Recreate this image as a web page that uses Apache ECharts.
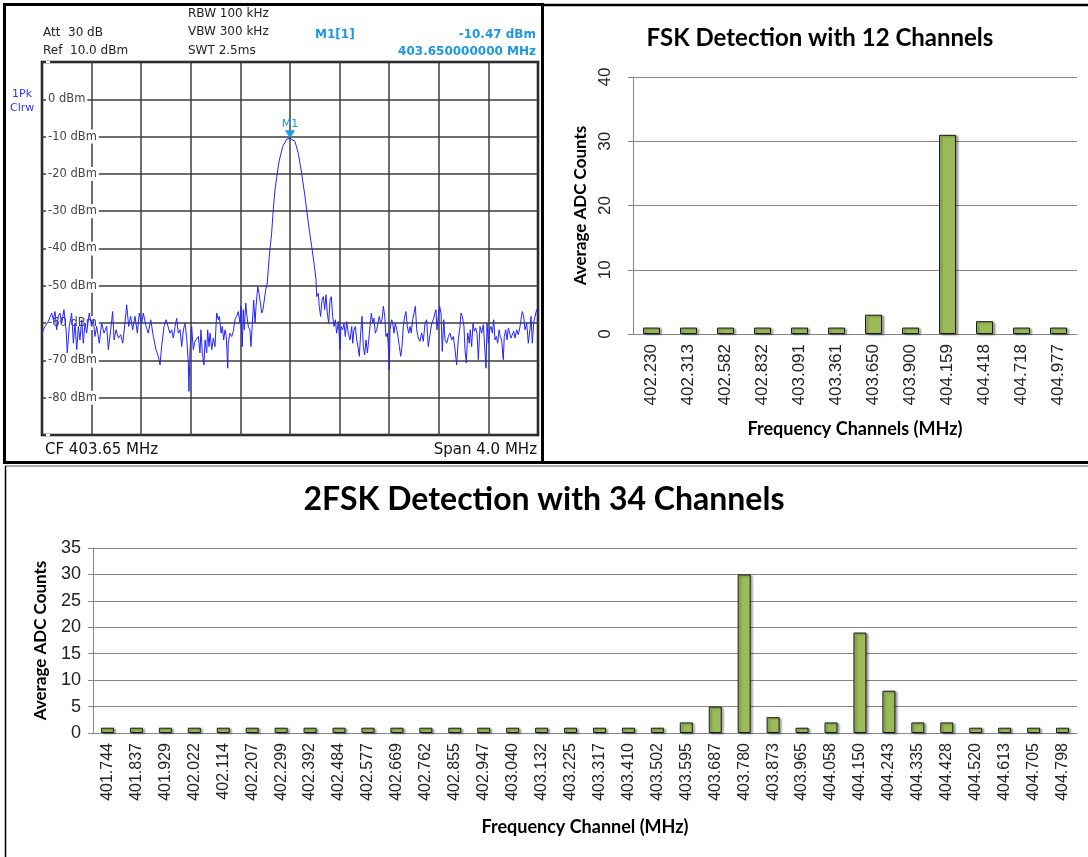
<!DOCTYPE html>
<html>
<head>
<meta charset="utf-8">
<script src="https://cdn.jsdelivr.net/npm/echarts@6/dist/echarts.min.js"></script>
<style>
  html, body { margin: 0; padding: 0; background: #fff; }
  #main { width: 1088px; height: 857px; }
</style>
</head>
<body>
<div id="main"></div>
<script>
// spectrum analyser trace, MHz / dBm
const centerFreq = 403.65
const traceFreq = [
  401.650, 401.660, 401.674, 401.701, 401.728, 401.741, 401.755, 401.768, 401.782, 401.795,
  401.809, 401.827, 401.844, 401.854, 401.870, 401.889, 401.903, 401.916, 401.930, 401.943,
  401.956, 401.970, 401.983, 401.997, 402.010, 402.031, 402.051, 402.064, 402.077, 402.091,
  402.112, 402.131, 402.150, 402.172, 402.185, 402.204, 402.220, 402.231, 402.247, 402.266,
  402.285, 402.301, 402.319, 402.333, 402.349, 402.365, 402.381, 402.400, 402.419, 402.435,
  402.454, 402.467, 402.489, 402.507, 402.527, 402.548, 402.569, 402.588, 402.602, 402.615,
  402.634, 402.651, 402.682, 402.696, 402.709, 402.723, 402.736, 402.749, 402.763, 402.777,
  402.790, 402.803, 402.817, 402.830, 402.835, 402.844, 402.857, 402.870, 402.884, 402.898,
  402.911, 402.924, 402.932, 402.943, 402.956, 402.965, 402.978, 402.986, 402.997, 403.005,
  403.019, 403.032, 403.045, 403.059, 403.072, 403.080, 403.094, 403.104, 403.115, 403.126,
  403.136, 403.148, 403.152, 403.166, 403.180, 403.193, 403.206, 403.220, 403.233, 403.247,
  403.255, 403.265, 403.273, 403.281, 403.293, 403.303, 403.314, 403.327, 403.335, 403.346,
  403.357, 403.368, 403.376, 403.390, 403.400, 403.411, 403.422, 403.432, 403.443, 403.454,
  403.466, 403.483, 403.502, 403.515, 403.529, 403.543, 403.564, 403.591, 403.623, 403.650,
  403.690, 403.717, 403.744, 403.771, 403.798, 403.825, 403.844, 403.860, 403.865, 403.878,
  403.886, 403.897, 403.908, 403.919, 403.930, 403.940, 403.951, 403.962, 403.973, 403.983,
  403.994, 404.005, 404.016, 404.026, 404.040, 404.048, 404.053, 404.061, 404.075, 404.085,
  404.096, 404.107, 404.120, 404.134, 404.148, 404.156, 404.166, 404.177, 404.188, 404.198,
  404.209, 404.220, 404.231, 404.241, 404.252, 404.263, 404.274, 404.285, 404.295, 404.306,
  404.317, 404.327, 404.338, 404.349, 404.360, 404.370, 404.381, 404.392, 404.403, 404.414,
  404.424, 404.435, 404.446, 404.451, 404.456, 404.470, 404.478, 404.489, 404.499, 404.511,
  404.521, 404.532, 404.543, 404.553, 404.564, 404.575, 404.585, 404.596, 404.607, 404.618,
  404.628, 404.639, 404.650, 404.661, 404.672, 404.685, 404.698, 404.712, 404.725, 404.739,
  404.752, 404.765, 404.779, 404.793, 404.806, 404.819, 404.827, 404.835, 404.846, 404.857,
  404.868, 404.878, 404.890, 404.900, 404.914, 404.927, 404.940, 404.954, 404.967, 404.981,
  404.994, 405.007, 405.021, 405.029, 405.040, 405.053, 405.061, 405.072, 405.083, 405.096,
  405.104, 405.115, 405.126, 405.136, 405.148, 405.158, 405.169, 405.182, 405.196, 405.209,
  405.223, 405.231, 405.239, 405.249, 405.261, 405.271, 405.282, 405.293, 405.303, 405.314,
  405.325, 405.336, 405.346, 405.357, 405.370, 405.378, 405.390, 405.400, 405.411, 405.422,
  405.432, 405.443, 405.454, 405.465, 405.478, 405.491, 405.505, 405.513, 405.523, 405.535,
  405.545, 405.559, 405.572, 405.585, 405.594, 405.604, 405.615, 405.626, 405.639, 405.648
]
const traceDbm = [
  -63.0, -61.8, -60.9, -59.6, -57.3, -59.1, -56.9, -61.8, -58.2, -57.3,
  -60.0, -56.4, -61.8, -68.0, -60.9, -57.3, -65.4, -60.0, -67.1, -60.9,
  -64.5, -59.1, -65.4, -60.0, -62.7, -57.3, -60.9, -59.1, -63.6, -60.9,
  -65.4, -60.0, -62.7, -60.9, -67.1, -61.8, -56.9, -64.5, -61.8, -64.0,
  -63.1, -65.4, -60.0, -55.1, -60.9, -58.2, -61.8, -58.2, -62.7, -57.3,
  -60.0, -57.3, -60.9, -62.7, -59.1, -63.6, -67.1, -68.9, -71.2, -66.2,
  -60.9, -59.1, -62.7, -61.8, -64.0, -60.9, -58.7, -62.7, -61.8, -66.3,
  -61.8, -60.0, -64.0, -70.7, -78.3, -67.1, -60.9, -67.1, -64.9, -64.5,
  -63.6, -68.0, -61.8, -68.0, -71.2, -64.5, -68.0, -61.8, -66.3, -62.7,
  -67.1, -64.0, -66.3, -57.3, -59.1, -58.2, -62.7, -60.9, -64.5, -61.8,
  -63.6, -72.1, -65.4, -62.7, -63.6, -62.2, -59.1, -58.2, -56.9, -60.0,
  -55.5, -66.3, -56.4, -61.8, -54.6, -58.2, -60.9, -61.8, -66.3, -60.4,
  -53.8, -60.0, -55.5, -50.2, -52.0, -54.6, -57.3, -56.4, -53.8, -51.1,
  -49.5, -42.1, -35.9, -29.6, -24.3, -20.7, -16.3, -12.7, -10.7, -10.47,
  -11.3, -14.5, -19.8, -26.1, -33.2, -39.5, -43.9, -48.4, -52.9, -52.0,
  -55.5, -58.2, -53.8, -52.9, -56.4, -52.4, -57.3, -60.0, -53.8, -52.9,
  -58.2, -60.9, -59.1, -62.7, -59.6, -63.6, -67.1, -60.9, -61.8, -60.0,
  -63.6, -59.6, -62.7, -64.5, -60.9, -65.4, -61.8, -60.9, -64.5, -66.3,
  -68.9, -62.7, -58.2, -66.3, -68.5, -64.5, -68.0, -64.5, -64.0, -57.3,
  -60.0, -58.7, -62.7, -61.8, -60.0, -58.2, -60.0, -59.1, -55.5, -58.2,
  -63.6, -62.7, -67.6, -72.5, -61.8, -59.1, -60.0, -62.7, -60.0, -61.8,
  -63.6, -66.3, -68.9, -66.3, -60.9, -58.2, -56.9, -60.9, -62.7, -60.9,
  -62.7, -59.1, -57.3, -55.5, -61.8, -64.0, -64.9, -62.7, -64.9, -60.0,
  -59.1, -66.3, -66.7, -60.0, -59.1, -57.3, -56.4, -61.8, -58.2, -55.5,
  -57.3, -67.6, -59.1, -64.5, -65.4, -63.6, -62.7, -64.5, -63.6, -67.1,
  -71.2, -64.5, -60.9, -57.3, -58.2, -60.9, -67.1, -70.7, -62.7, -65.4,
  -61.8, -66.3, -60.0, -62.2, -61.3, -62.7, -69.8, -60.9, -62.7, -60.4,
  -60.0, -72.1, -60.0, -65.4, -61.8, -60.9, -62.7, -59.1, -64.5, -63.6,
  -65.4, -61.8, -63.6, -64.5, -69.8, -63.6, -61.8, -64.5, -61.3, -62.7,
  -64.0, -63.6, -62.2, -64.0, -61.8, -63.1, -60.9, -59.1, -56.9, -58.2,
  -61.8, -60.0, -65.4, -61.8, -58.2, -65.4, -60.0, -58.2, -56.4, -57.3
]
const markerFreq = 403.65
const markerDbm = -10.47
const dbmTicks = [0, -10, -20, -30, -40, -50, -60, -70, -80]

// FSK, 12 channels
const fsk12Channels = ['402.230', '402.313', '402.582', '402.832', '403.091', '403.361',
  '403.650', '403.900', '404.159', '404.418', '404.718', '404.977']
const fsk12Counts = [1, 1, 1, 1, 1, 1, 3, 1, 31, 2, 1, 1]

// 2FSK, 34 channels
const fsk34Channels = ['401.744', '401.837', '401.929', '402.022', '402.114', '402.207',
  '402.299', '402.392', '402.484', '402.577', '402.669', '402.762', '402.855', '402.947',
  '403.040', '403.132', '403.225', '403.317', '403.410', '403.502', '403.595', '403.687',
  '403.780', '403.873', '403.965', '404.058', '404.150', '404.243', '404.335', '404.428',
  '404.520', '404.613', '404.705', '404.798']
const fsk34Counts = [1, 1, 1, 1, 1, 1, 1, 1, 1, 1, 1, 1, 1, 1, 1, 1, 1, 1, 1, 1,
  2, 5, 30, 3, 1, 2, 19, 8, 2, 2, 1, 1, 1, 1]

const tracePoints = traceFreq.map((f, i) => [f - centerFreq, traceDbm[i]])

const instFont = 'DejaVu Sans'
const markBlue = '#1b98e0'
const gridGrey = '#868686'
const barStyle = {
  color: '#9bbb59',
  borderColor: '#1a1a1a',
  borderWidth: 1,
  shadowColor: 'rgba(0,0,0,0.35)',
  shadowBlur: 2,
  shadowOffsetX: 2,
  shadowOffsetY: 1,
}
const boldName = { fontFamily: 'Lato', fontWeight: 'bold', fontSize: 18, color: '#000' }

function txt(text, x, y, opts) {
  return {
    type: 'text',
    x: x,
    y: y,
    z: 10,
    style: Object.assign({
      text: text,
      fill: '#222',
      font: '12px "' + instFont + '"',
      textAlign: 'left',
      textVerticalAlign: 'middle',
      verticalAlign: 'middle',
    }, opts || {}),
  }
}

const chart = echarts.init(document.getElementById('main'))
chart.setOption({
  animation: false,
  backgroundColor: '#fff',
  grid: [
    { left: 42, top: 62, width: 496, height: 373, show: true, borderColor: '#000', borderWidth: 2.5, backgroundColor: '#fff' },
    { left: 633, top: 77, width: 444, height: 257 },
    { left: 93, top: 548, width: 984, height: 185 },
  ],
  xAxis: [
    {
      gridIndex: 0, type: 'value', min: -2, max: 2, interval: 0.4,
      axisLine: { show: false }, axisTick: { show: false }, axisLabel: { show: false },
      splitLine: { lineStyle: { color: '#3c3c3c', width: 1.5 } },
    },
    {
      gridIndex: 1, type: 'category', data: fsk12Channels,
      axisTick: { show: false },
      axisLine: { lineStyle: { color: gridGrey } },
      axisLabel: { rotate: 90, fontFamily: 'Liberation Sans', fontSize: 17, color: '#222', margin: 10 },
      name: 'Frequency Channels (MHz)', nameLocation: 'middle', nameGap: 86,
      nameTextStyle: Object.assign({}, boldName, { fontSize: 18 }),
    },
    {
      gridIndex: 2, type: 'category', data: fsk34Channels,
      axisTick: { show: false },
      axisLine: { lineStyle: { color: gridGrey } },
      axisLabel: { rotate: 90, fontFamily: 'Liberation Sans', fontSize: 16, color: '#222', margin: 10, interval: 0 },
      name: 'Frequency Channel (MHz)', nameLocation: 'middle', nameGap: 85,
      nameTextStyle: Object.assign({}, boldName, { fontSize: 18 }),
    },
  ],
  yAxis: [
    {
      gridIndex: 0, type: 'value', min: -90, max: 10, interval: 10,
      axisLine: { show: false }, axisTick: { show: false },
      splitLine: { lineStyle: { color: '#3c3c3c', width: 1.5 } },
      axisLabel: {
        inside: true, margin: 4, color: '#444', fontFamily: instFont, fontSize: 11.5,
        backgroundColor: '#fff', padding: [1, 2],
        formatter: (v) => (dbmTicks.indexOf(v) >= 0 ? v + ' dBm' : ''),
      },
    },
    {
      gridIndex: 1, type: 'value', min: 0, max: 40, interval: 10,
      axisLine: { show: true, lineStyle: { color: gridGrey } },
      axisTick: { show: true, length: 5, lineStyle: { color: gridGrey } },
      splitLine: { lineStyle: { color: gridGrey } },
      axisLabel: { rotate: 90, fontFamily: 'Liberation Sans', fontSize: 17, color: '#222', margin: 19 },
      name: 'Average ADC Counts', nameLocation: 'middle', nameGap: 44,
      nameTextStyle: Object.assign({}, boldName, { fontSize: 17 }),
    },
    {
      gridIndex: 2, type: 'value', min: 0, max: 35, interval: 5,
      axisLine: { show: true, lineStyle: { color: gridGrey } },
      axisTick: { show: true, length: 5, lineStyle: { color: gridGrey } },
      splitLine: { lineStyle: { color: gridGrey } },
      axisLabel: { fontFamily: 'Liberation Sans', fontSize: 18, color: '#222', margin: 12 },
      name: 'Average ADC Counts', nameLocation: 'middle', nameGap: 44,
      nameTextStyle: Object.assign({}, boldName, { fontSize: 17 }),
    },
  ],
  series: [
    {
      type: 'line', xAxisIndex: 0, yAxisIndex: 0,
      data: tracePoints, showSymbol: false, z: 5,
      lineStyle: { color: '#2323ff', width: 1 },
      markPoint: {
        symbol: 'triangle', symbolSize: [10, 8], symbolRotate: 180, symbolOffset: [0, -4],
        itemStyle: { color: markBlue },
        label: { show: true, position: 'top', formatter: 'M1', color: markBlue, fontFamily: instFont, fontSize: 11, distance: 1 },
        data: [{ coord: [markerFreq - centerFreq, markerDbm] }],
      },
    },
    {
      type: 'bar', xAxisIndex: 1, yAxisIndex: 1,
      data: fsk12Counts, barWidth: 17, itemStyle: barStyle,
    },
    {
      type: 'bar', xAxisIndex: 2, yAxisIndex: 2,
      data: fsk34Counts, barWidth: 13, itemStyle: barStyle,
    },
  ],
  graphic: [
    // panel frames
    { type: 'rect', z: 20, shape: { x: 4.5, y: 4.5, width: 538, height: 458 }, style: { fill: null, stroke: '#000', lineWidth: 3 } },
    { type: 'line', z: 20, shape: { x1: 543, y1: 5, x2: 1088, y2: 5 }, style: { stroke: '#000', lineWidth: 2.5 } },
    { type: 'line', z: 20, shape: { x1: 543, y1: 462.5, x2: 1088, y2: 462.5 }, style: { stroke: '#000', lineWidth: 3 } },
    { type: 'line', z: 20, shape: { x1: 5, y1: 466, x2: 1088, y2: 466 }, style: { stroke: '#555', lineWidth: 1 } },
    { type: 'line', z: 20, shape: { x1: 5.5, y1: 466, x2: 5.5, y2: 857 }, style: { stroke: '#000', lineWidth: 1.5 } },
    // instrument header
    txt('RBW 100 kHz', 188, 14),
    txt('Att  30 dB', 43, 33),
    txt('VBW 300 kHz', 188, 32),
    txt('Ref  10.0 dBm', 43, 51),
    txt('SWT 2.5ms', 188, 51),
    txt('M1[1]', 315, 35, { fill: markBlue, font: 'bold 12px "' + instFont + '"' }),
    txt('-10.47 dBm', 536, 35, { fill: markBlue, font: 'bold 12px "' + instFont + '"', textAlign: 'right' }),
    txt('403.650000000 MHz', 536, 52, { fill: markBlue, font: 'bold 12px "' + instFont + '"', textAlign: 'right' }),
    txt('1Pk', 12, 94, { fill: '#3333ff', font: '11px "' + instFont + '"' }),
    txt('Clrw', 10, 108, { fill: '#3333ff', font: '11px "' + instFont + '"' }),
    txt('CF 403.65 MHz', 45, 450, { fill: '#111', font: '15px "' + instFont + '"' }),
    txt('Span 4.0 MHz', 537, 450, { fill: '#111', font: '15px "' + instFont + '"', textAlign: 'right' }),
    // chart titles
    txt('FSK Detection with 12 Channels', 820, 38, { fill: '#000', font: 'bold 24px Lato', textAlign: 'center' }),
    txt('2FSK Detection with 34 Channels', 544, 500, { fill: '#000', font: 'bold 32px Lato', textAlign: 'center' }),
  ],
})
</script>
</body>
</html>
